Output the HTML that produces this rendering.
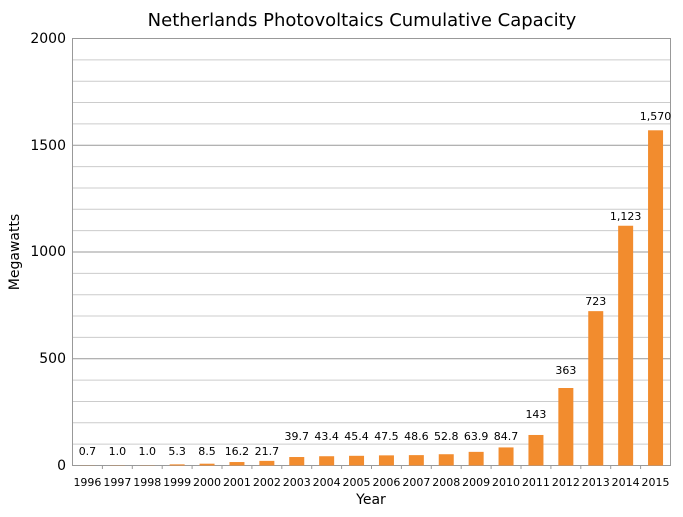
<!DOCTYPE html>
<html><head><style>body{margin:0;background:#fff}</style></head><body>
<svg width="683" height="512" xmlns="http://www.w3.org/2000/svg" font-family="DejaVu Sans, Liberation Sans, sans-serif">
<rect width="683" height="512" fill="#fff"/>
<text x="362" y="26" font-size="18" text-anchor="middle" fill="#000">Netherlands Photovoltaics Cumulative Capacity</text>
<g stroke="#ccc">
<line x1="72.5" x2="670.5" y1="444.15" y2="444.15"/><line x1="72.5" x2="670.5" y1="422.8" y2="422.8"/><line x1="72.5" x2="670.5" y1="401.45" y2="401.45"/><line x1="72.5" x2="670.5" y1="380.1" y2="380.1"/>
<line x1="72.5" x2="670.5" y1="337.4" y2="337.4"/><line x1="72.5" x2="670.5" y1="316.05" y2="316.05"/><line x1="72.5" x2="670.5" y1="294.7" y2="294.7"/><line x1="72.5" x2="670.5" y1="273.35" y2="273.35"/>
<line x1="72.5" x2="670.5" y1="230.65" y2="230.65"/><line x1="72.5" x2="670.5" y1="209.3" y2="209.3"/><line x1="72.5" x2="670.5" y1="187.95" y2="187.95"/><line x1="72.5" x2="670.5" y1="166.6" y2="166.6"/>
<line x1="72.5" x2="670.5" y1="123.9" y2="123.9"/><line x1="72.5" x2="670.5" y1="102.55" y2="102.55"/><line x1="72.5" x2="670.5" y1="81.2" y2="81.2"/><line x1="72.5" x2="670.5" y1="59.85" y2="59.85"/>
</g>
<g stroke="#999">
<line x1="72.5" x2="670.5" y1="358.75" y2="358.75"/><line x1="72.5" x2="670.5" y1="252" y2="252"/><line x1="72.5" x2="670.5" y1="145.25" y2="145.25"/>
</g>
<rect x="72.5" y="38.5" width="598" height="427" fill="none" stroke="#999"/>
<g font-size="14" text-anchor="end" fill="#000">
<text x="66" y="470">0</text><text x="66" y="363">500</text><text x="66" y="256">1000</text><text x="66" y="150">1500</text><text x="66" y="43">2000</text>
</g>
<text transform="translate(19,252) rotate(-90)" font-size="14" text-anchor="middle">Megawatts</text>
<text x="371" y="504" font-size="14" text-anchor="middle">Year</text>
<g fill="#f28c2e">
<rect x="79.95" y="465.35" width="15" height="0.15"/>
<rect x="109.85" y="465.29" width="15" height="0.21"/>
<rect x="139.75" y="465.29" width="15" height="0.21"/>
<rect x="169.65" y="464.37" width="15" height="1.13"/>
<rect x="199.55" y="463.69" width="15" height="1.81"/>
<rect x="229.45" y="462.04" width="15" height="3.46"/>
<rect x="259.35" y="460.87" width="15" height="4.63"/>
<rect x="289.25" y="457.02" width="15" height="8.48"/>
<rect x="319.15" y="456.23" width="15" height="9.27"/>
<rect x="349.05" y="455.81" width="15" height="9.69"/>
<rect x="378.95" y="455.36" width="15" height="10.14"/>
<rect x="408.85" y="455.12" width="15" height="10.38"/>
<rect x="438.75" y="454.23" width="15" height="11.27"/>
<rect x="468.65" y="451.86" width="15" height="13.64"/>
<rect x="498.55" y="447.42" width="15" height="18.08"/>
<rect x="528.45" y="434.97" width="15" height="30.53"/>
<rect x="558.35" y="388" width="15" height="77.5"/>
<rect x="588.25" y="311.14" width="15" height="154.36"/>
<rect x="618.15" y="225.74" width="15" height="239.76"/>
<rect x="648.05" y="130.3" width="15" height="335.2"/>
</g>
<g font-size="11" text-anchor="middle" fill="#000">
<text x="87.45" y="455">0.7</text><text x="117.35" y="455">1.0</text><text x="147.25" y="455">1.0</text><text x="177.15" y="455">5.3</text><text x="207.05" y="455">8.5</text><text x="236.95" y="455">16.2</text><text x="266.85" y="455">21.7</text>
<text x="296.75" y="440">39.7</text><text x="326.65" y="440">43.4</text><text x="356.55" y="440">45.4</text><text x="386.45" y="440">47.5</text><text x="416.35" y="440">48.6</text><text x="446.25" y="440">52.8</text><text x="476.15" y="440">63.9</text><text x="506.05" y="440">84.7</text>
<text x="535.95" y="418">143</text><text x="565.85" y="374">363</text><text x="595.75" y="305">723</text><text x="625.65" y="220">1,123</text><text x="655.55" y="120">1,570</text>
</g>
<g font-size="11" text-anchor="middle" fill="#000">
<text x="87.45" y="486">1996</text><text x="117.35" y="486">1997</text><text x="147.25" y="486">1998</text><text x="177.15" y="486">1999</text><text x="207.05" y="486">2000</text><text x="236.95" y="486">2001</text><text x="266.85" y="486">2002</text><text x="296.75" y="486">2003</text><text x="326.65" y="486">2004</text><text x="356.55" y="486">2005</text><text x="386.45" y="486">2006</text><text x="416.35" y="486">2007</text><text x="446.25" y="486">2008</text><text x="476.15" y="486">2009</text><text x="506.05" y="486">2010</text><text x="535.95" y="486">2011</text><text x="565.85" y="486">2012</text><text x="595.75" y="486">2013</text><text x="625.65" y="486">2014</text><text x="655.55" y="486">2015</text>
</g>
<g stroke="#999">
<line x1="102.4" x2="102.4" y1="465.5" y2="469"/><line x1="132.3" x2="132.3" y1="465.5" y2="469"/><line x1="162.2" x2="162.2" y1="465.5" y2="469"/><line x1="192.1" x2="192.1" y1="465.5" y2="469"/><line x1="222" x2="222" y1="465.5" y2="469"/><line x1="251.9" x2="251.9" y1="465.5" y2="469"/><line x1="281.8" x2="281.8" y1="465.5" y2="469"/><line x1="311.7" x2="311.7" y1="465.5" y2="469"/><line x1="341.6" x2="341.6" y1="465.5" y2="469"/><line x1="371.5" x2="371.5" y1="465.5" y2="469"/><line x1="401.4" x2="401.4" y1="465.5" y2="469"/><line x1="431.3" x2="431.3" y1="465.5" y2="469"/><line x1="461.2" x2="461.2" y1="465.5" y2="469"/><line x1="491.1" x2="491.1" y1="465.5" y2="469"/><line x1="521" x2="521" y1="465.5" y2="469"/><line x1="550.9" x2="550.9" y1="465.5" y2="469"/><line x1="580.8" x2="580.8" y1="465.5" y2="469"/><line x1="610.7" x2="610.7" y1="465.5" y2="469"/><line x1="640.6" x2="640.6" y1="465.5" y2="469"/>
</g>
</svg>
</body></html>
